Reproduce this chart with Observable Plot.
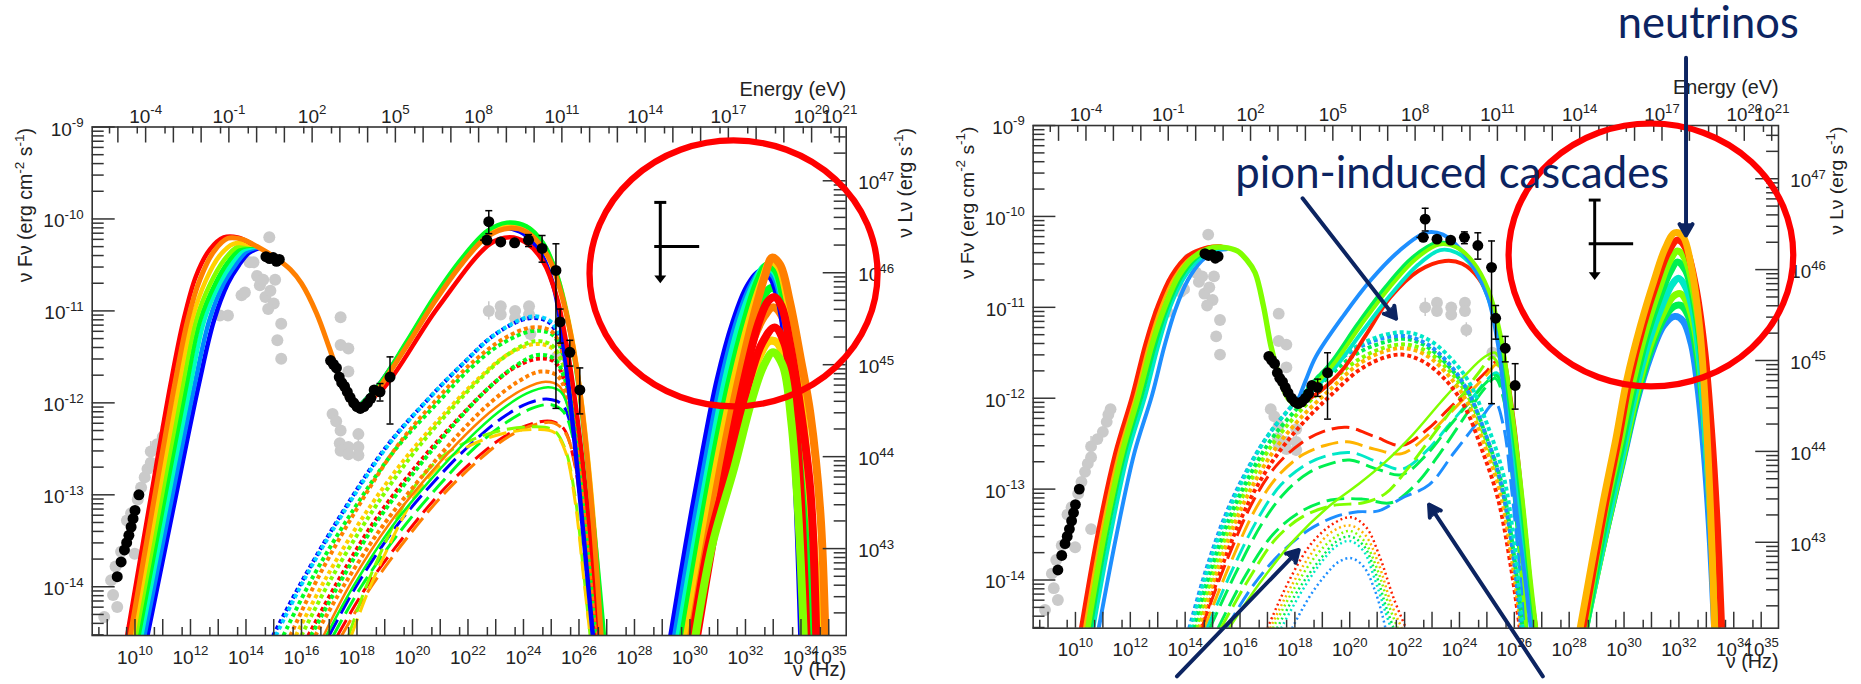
<!DOCTYPE html>
<html>
<head>
<meta charset="utf-8">
<script src="https://cdn.jsdelivr.net/npm/d3@7"></script>
<script src="https://cdn.jsdelivr.net/npm/@observablehq/plot@0.6"></script>
<style>
html,body{margin:0;padding:0;background:#fff}
body{width:1861px;height:684px;overflow:hidden;position:relative}
.panel{position:absolute;top:0}
</style>
</head>
<body>
<div id="left" class="panel" style="left:0px"></div>
<div id="right" class="panel" style="left:941.7px"></div>
<script>
// ================= DATA (log10 values) =================
const nuTickLabels = [10,12,14,16,18,20,22,24,26,28,30,32,34,35];
const energyTickLabels = [-4,-1,2,5,8,11,14,17,20,21];
const fluxTickLabels = [-9,-10,-11,-12,-13,-14];
const lumTickLabels = [47,46,45,44,43];

// observed data: [log nu, log nuFnu]
const blackPoints = [
 [9.36,-13.89],[9.5,-13.73],[9.62,-13.6],[9.7,-13.52],[9.78,-13.44],[9.86,-13.35],[9.93,-13.26],[10.0,-13.17],[10.14,-13.0],
 [14.72,-10.41],[14.85,-10.43],[14.98,-10.42],[15.1,-10.46],[15.2,-10.44],
 [17.05,-11.54],[17.15,-11.58],[17.26,-11.62],[17.36,-11.72],[17.45,-11.78],[17.55,-11.82],[17.65,-11.88],[17.75,-11.94],
 [17.88,-12.0],[18.0,-12.04],[18.12,-12.06],[18.25,-12.04],[18.38,-12.0],[18.5,-11.95],[18.62,-11.86],[18.83,-11.88],[19.19,-11.72],
 [22.75,-10.03],[22.68,-10.23],[23.18,-10.25],[23.68,-10.26],[24.18,-10.23],[24.67,-10.32],[25.17,-10.56],[25.32,-11.12],[25.67,-11.45],[26.03,-11.86]
];
const blackYErr = [ // [log nu, low, high]
 [18.83,-11.98,-11.79],[19.19,-12.23,-11.5],[22.75,-10.16,-9.91],[24.18,-10.3,-10.17],[24.67,-10.47,-10.18],
 [25.17,-12.06,-10.27],[25.32,-11.35,-10.98],[25.67,-11.6,-11.32],[26.03,-12.12,-11.62]
];
const blackXErr = [ // [log nuFnu, low nu, high nu]
 [-10.23,22.45,22.9],[-10.23,24.0,24.4],[-10.56,25.0,25.35],[-11.12,25.2,25.45],[-11.86,25.9,26.15]
];
const grayPoints = [
 [8.89,-14.33],[9.14,-13.93],[9.21,-14.09],[9.36,-14.22],[9.3,-13.78],[9.5,-13.62],[9.71,-13.28],[9.86,-13.2],[9.99,-13.64],
 [10.1,-13.05],[10.22,-12.92],[10.35,-12.81],[10.45,-12.72],[10.57,-12.53],[10.57,-12.65],[10.57,-13.44],[10.8,-12.45],
 [11.0,-12.37],[11.14,-12.26],[11.2,-12.18],[11.28,-12.12],
 [13.06,-11.05],[13.35,-11.05],[13.84,-10.83],[13.96,-10.8],[14.13,-10.47],[14.27,-10.47],[14.4,-10.62],[14.5,-10.72],
 [14.62,-10.66],[14.84,-10.2],[14.7,-10.85],[14.88,-10.78],[15.0,-10.92],[15.05,-10.66],[14.8,-10.98],[15.27,-11.14],
 [15.13,-11.32],[15.27,-11.52],
 [17.41,-11.07],[17.41,-11.37],[17.69,-11.41],[17.69,-11.66],[17.12,-12.12],[17.25,-12.2],[17.41,-12.3],[17.38,-12.44],
 [17.41,-12.52],[17.69,-12.48],[18.05,-12.34],[18.05,-12.48],[18.05,-12.57],[17.69,-12.56],
 [22.75,-11.0],[23.18,-10.95],[23.18,-11.04],[23.7,-11.0],[23.7,-11.08],[24.2,-10.95],[24.2,-11.04],[24.25,-11.25],[25.2,-11.5]
];
const grayYErr = [[10.57,-12.62,-12.42],[22.75,-11.1,-10.9],[18.05,-12.64,-12.3],[17.41,-12.58,-12.45],[24.25,-11.33,-11.17]];
const upperLimit = [[28.93,-10.70,-9.82]];      // [log nu, tip, top]
const upperLimitBar = [[-10.30,28.73,30.35]];   // [log nuFnu, nu low, nu high]

// ---------- left panel model curves ----------
const leftSync = [
 {s:"blue",  p:[[10.45,-14.53],[11.38,-13.15],[12.3,-11.8],[12.85,-11.1],[13.35,-10.7],[13.75,-10.5],[14.1,-10.37],[14.45,-10.32]]},
 {s:"azure", p:[[10.34,-14.53],[11.25,-13.15],[12.15,-11.8],[12.68,-11.1],[13.2,-10.7],[13.62,-10.5],[14.0,-10.36],[14.4,-10.31]]},
 {s:"teal",  p:[[10.23,-14.53],[11.12,-13.15],[12.0,-11.8],[12.5,-11.1],[13.05,-10.7],[13.5,-10.48],[13.9,-10.34],[14.35,-10.3]]},
 {s:"green", p:[[10.13,-14.53],[11.0,-13.15],[11.86,-11.8],[12.35,-11.1],[12.9,-10.7],[13.35,-10.47],[13.8,-10.32],[14.3,-10.29]]},
 {s:"yg",    p:[[10.03,-14.53],[10.88,-13.15],[11.72,-11.8],[12.2,-11.1],[12.72,-10.7],[13.2,-10.45],[13.7,-10.3],[14.2,-10.28]]},
 {s:"yellow",p:[[9.93,-14.53],[10.76,-13.15],[11.58,-11.8],[12.05,-11.1],[12.55,-10.67],[13.05,-10.4],[13.55,-10.27],[14.2,-10.28]]},
 {s:"red",   p:[[9.72,-14.53],[10.5,-13.15],[11.28,-11.8],[11.75,-11.1],[12.2,-10.62],[12.7,-10.33],[13.2,-10.2],[13.7,-10.2],[14.2,-10.27]]}
];
const leftCompton = [
 {s:"blue",  p:[[18.0,-12.06],[18.8,-11.8],[20.8,-10.88],[22.6,-10.17],[23.3,-10.1],[24.0,-10.16],[24.6,-10.36],[25.1,-10.75],[25.45,-11.4],[25.8,-12.3],[26.15,-13.4],[26.5,-14.53]]},
 {s:"red",   p:[[18.0,-12.06],[18.9,-11.86],[20.9,-10.97],[22.8,-10.27],[23.5,-10.2],[24.1,-10.26],[24.7,-10.46],[25.2,-10.85],[25.6,-11.45],[26.0,-12.3],[26.4,-13.4],[26.75,-14.53]]},
 {s:"yellow",p:[[18.0,-12.06],[18.8,-11.82],[20.8,-10.86],[22.7,-10.15],[23.5,-10.06],[24.2,-10.1],[24.8,-10.32],[25.3,-10.7],[25.75,-11.3],[26.1,-12.0],[26.45,-13.0],[26.85,-14.53]]},
 {s:"green", p:[[18.0,-12.06],[18.8,-11.8],[19.8,-11.33],[20.8,-10.84],[21.8,-10.42],[22.7,-10.13],[23.4,-10.04],[24.1,-10.08],[24.7,-10.26],[25.2,-10.6],[25.6,-11.1],[26.0,-11.85],[26.35,-12.8],[26.65,-13.7],[26.9,-14.53]]}
];
const leftTotal = [[9.83,-14.53],[10.63,-13.15],[11.43,-11.8],[11.9,-11.1],[12.35,-10.65],[12.85,-10.35],[13.35,-10.21],[13.85,-10.22],
 [14.4,-10.3],[15.1,-10.43],[15.6,-10.55],[16.0,-10.7],[16.55,-11.03],[17.0,-11.4],[17.3,-11.66],[17.6,-11.9],[18.0,-12.06],
 [18.4,-12.0],[18.8,-11.84],[19.8,-11.38],[20.8,-10.9],[21.8,-10.48],[22.7,-10.19],[23.5,-10.1],[24.1,-10.14],[24.6,-10.28],
 [25.0,-10.48],[25.35,-10.8],[25.7,-11.25],[26.0,-11.8],[26.3,-12.6],[26.55,-13.45],[26.8,-14.53]];
const leftCascadeDotted = [
 {s:"blue",  p:[[14.98,-14.53],[16.0,-13.95],[17.5,-13.18],[19.0,-12.5],[20.5,-11.98],[21.8,-11.58],[23.0,-11.25],[24.2,-11.08],[24.9,-11.12],[25.3,-11.32],[25.65,-11.85],[25.95,-12.6],[26.25,-13.5],[26.55,-14.53]]},
 {s:"cyan",  p:[[15.08,-14.53],[16.1,-13.92],[17.6,-13.15],[19.1,-12.47],[20.6,-11.95],[21.9,-11.55],[23.1,-11.23],[24.3,-11.06],[25.0,-11.12],[25.35,-11.35],[25.7,-11.9],[26.0,-12.7],[26.3,-13.6],[26.6,-14.53]]},
 {s:"green", p:[[15.35,-14.53],[16.4,-13.9],[17.9,-13.15],[19.4,-12.5],[20.9,-12.0],[22.1,-11.62],[23.2,-11.36],[24.3,-11.22],[25.0,-11.25],[25.4,-11.45],[25.75,-12.0],[26.05,-12.8],[26.35,-13.7],[26.6,-14.53]]},
 {s:"orange",p:[[15.6,-14.53],[16.6,-13.9],[18.0,-13.15],[19.5,-12.45],[21.0,-11.92],[22.2,-11.55],[23.3,-11.3],[24.3,-11.18],[25.0,-11.22],[25.4,-11.45],[25.75,-12.0],[26.1,-12.9],[26.4,-13.8],[26.65,-14.53]]},
 {s:"yellow",p:[[15.8,-14.53],[16.8,-13.95],[18.2,-13.25],[19.7,-12.62],[21.2,-12.1],[22.4,-11.73],[23.4,-11.48],[24.4,-11.36],[25.0,-11.4],[25.45,-11.6],[25.8,-12.15],[26.1,-12.95],[26.4,-13.8],[26.65,-14.53]]},
 {s:"yg",    p:[[16.0,-14.53],[17.0,-13.95],[18.4,-13.25],[19.9,-12.6],[21.3,-12.1],[22.5,-11.72],[23.5,-11.46],[24.4,-11.33],[25.0,-11.37],[25.45,-11.6],[25.8,-12.2],[26.1,-13.0],[26.4,-13.85],[26.65,-14.53]]},
 {s:"red",   p:[[16.25,-14.53],[17.2,-14.0],[18.6,-13.3],[20.1,-12.7],[21.5,-12.22],[22.6,-11.88],[23.6,-11.63],[24.5,-11.52],[25.1,-11.55],[25.5,-11.78],[25.85,-12.35],[26.15,-13.15],[26.45,-14.0],[26.65,-14.53]]},
 {s:"green", p:[[16.35,-14.53],[17.3,-14.0],[18.7,-13.3],[20.2,-12.7],[21.6,-12.2],[22.7,-11.85],[23.7,-11.6],[24.5,-11.48],[25.1,-11.52],[25.5,-11.75],[25.85,-12.3],[26.15,-13.1],[26.45,-14.0],[26.65,-14.53]]},
 {s:"orange",p:[[16.5,-14.53],[17.5,-14.0],[18.9,-13.35],[20.4,-12.78],[21.7,-12.33],[22.8,-12.0],[23.8,-11.77],[24.6,-11.66],[25.2,-11.7],[25.55,-11.9],[25.9,-12.45],[26.2,-13.2],[26.5,-14.1],[26.7,-14.53]]}
];
const leftCascadeSolid = [
 {s:"orange",p:[[16.8,-14.53],[17.8,-13.95],[19.2,-13.3],[20.6,-12.78],[21.9,-12.35],[23.0,-12.05],[24.0,-11.85],[24.8,-11.77],[25.3,-11.82],[25.65,-12.1],[25.95,-12.7],[26.25,-13.5],[26.55,-14.53]]},
 {s:"green", p:[[16.9,-14.53],[17.9,-13.98],[19.3,-13.33],[20.7,-12.82],[22.0,-12.4],[23.1,-12.1],[24.1,-11.9],[24.9,-11.83],[25.35,-11.88],[25.7,-12.15],[26.0,-12.8],[26.3,-13.6],[26.6,-14.53]]}
];
const leftCascadeDashed = [
 {s:"blue",  p:[[17.0,-14.53],[18.0,-13.98],[19.4,-13.35],[20.8,-12.85],[22.1,-12.45],[23.2,-12.17],[24.2,-12.0],[24.9,-11.96],[25.4,-12.02],[25.75,-12.3],[26.05,-12.9],[26.35,-13.7],[26.6,-14.53]]},
 {s:"green", p:[[17.15,-14.53],[18.15,-14.0],[19.55,-13.4],[20.95,-12.9],[22.2,-12.5],[23.3,-12.23],[24.3,-12.06],[25.0,-12.02],[25.45,-12.1],[25.8,-12.4],[26.1,-13.0],[26.4,-13.8],[26.62,-14.53]]},
 {s:"red",   p:[[17.3,-14.53],[18.3,-14.02],[19.7,-13.45],[21.0,-12.98],[22.3,-12.6],[23.4,-12.35],[24.4,-12.22],[25.0,-12.2],[25.45,-12.28],[25.8,-12.6],[26.1,-13.2],[26.4,-14.0],[26.6,-14.53]]},
 {s:"orange",p:[[17.45,-14.53],[18.4,-14.05],[19.8,-13.47],[21.1,-13.0],[22.4,-12.62],[23.5,-12.36],[24.5,-12.23],[25.1,-12.22],[25.5,-12.32],[25.85,-12.65],[26.15,-13.3],[26.42,-14.05],[26.6,-14.53]]},
 {s:"yg",    p:[[17.7,-14.53],[18.3,-14.02],[18.9,-13.6],[19.5,-13.22],[20.1,-12.9],[21.0,-12.6],[22.0,-12.42],[23.2,-12.3],[24.4,-12.26],[25.1,-12.3],[25.5,-12.5],[25.85,-13.0],[26.15,-13.8],[26.4,-14.53]]},
 {s:"yellow",p:[[17.8,-14.53],[18.4,-14.05],[19.0,-13.65],[19.6,-13.28],[20.2,-12.96],[21.1,-12.65],[22.1,-12.46],[23.3,-12.33],[24.5,-12.29],[25.1,-12.32],[25.5,-12.52],[25.85,-13.05],[26.15,-13.85],[26.4,-14.53]]}
];
const leftNeutrino = [
 {s:"yellow",p:[[30.1,-14.53],[30.7,-13.5],[31.4,-12.6],[32.0,-11.95],[32.5,-11.5],[32.85,-11.33],[33.15,-11.35],[33.45,-11.6],[33.75,-12.1],[34.0,-12.9],[34.25,-14.0],[34.35,-14.53]]},
 {s:"orange",p:[[29.95,-14.53],[30.55,-13.5],[31.2,-12.5],[31.8,-11.8],[32.3,-11.3],[32.7,-11.05],[33.0,-10.96],[33.3,-11.05],[33.6,-11.4],[33.9,-12.0],[34.2,-12.9],[34.4,-13.8],[34.55,-14.53]]},
 {s:"green", p:[[29.8,-14.53],[30.4,-13.5],[31.0,-12.5],[31.55,-11.75],[32.1,-11.2],[32.55,-10.88],[32.95,-10.75],[33.3,-10.85],[33.6,-11.2],[33.9,-11.8],[34.15,-12.7],[34.35,-13.6],[34.5,-14.53]]},
 {s:"blue",  p:[[29.36,-14.53],[29.9,-13.55],[30.5,-12.55],[31.03,-11.75],[31.6,-11.12],[32.1,-10.74],[32.55,-10.58],[32.9,-10.62],[33.2,-10.85],[33.45,-11.3],[33.65,-11.9],[33.85,-12.9],[34.04,-14.53]]},
 {s:"azure", p:[[29.5,-14.53],[30.05,-13.55],[30.65,-12.55],[31.18,-11.75],[31.75,-11.1],[32.25,-10.72],[32.65,-10.56],[33.0,-10.6],[33.3,-10.85],[33.55,-11.35],[33.75,-12.0],[33.95,-13.0],[34.12,-14.53]]},
 {s:"teal",  p:[[29.62,-14.53],[30.18,-13.55],[30.78,-12.55],[31.3,-11.75],[31.85,-11.1],[32.35,-10.7],[32.72,-10.52],[33.05,-10.57],[33.35,-10.85],[33.6,-11.4],[33.8,-12.1],[34.0,-13.1],[34.15,-14.53]]},
 {s:"green", p:[[29.75,-14.53],[30.3,-13.55],[30.9,-12.55],[31.45,-11.75],[32.0,-11.1],[32.45,-10.68],[32.8,-10.5],[33.1,-10.56],[33.4,-10.9],[33.7,-11.5],[33.95,-12.3],[34.15,-13.3],[34.3,-14.53]]},
 {s:"yellow",p:[[29.9,-14.53],[30.45,-13.55],[31.05,-12.55],[31.6,-11.75],[32.15,-11.1],[32.6,-10.68],[32.92,-10.46],[33.2,-10.52],[33.5,-10.85],[33.85,-11.5],[34.15,-12.4],[34.45,-13.5],[34.65,-14.53]]},
 {s:"orange",p:[[30.05,-14.53],[30.6,-13.55],[31.2,-12.55],[31.75,-11.75],[32.3,-11.05],[32.7,-10.62],[32.96,-10.42],[33.25,-10.5],[33.6,-10.9],[33.98,-11.5],[34.34,-12.12],[34.7,-13.2],[34.88,-14.53]]},
 {s:"red",   p:[[30.26,-14.53],[30.8,-13.55],[31.4,-12.55],[31.95,-11.75],[32.45,-11.15],[32.8,-10.9],[33.05,-10.85],[33.3,-10.95],[33.6,-11.35],[34.0,-12.1],[34.35,-13.0],[34.55,-14.53]]},
 {s:"red",   p:[[30.1,-14.53],[30.7,-13.5],[31.5,-12.6],[32.1,-11.8],[32.6,-11.35],[33.05,-11.18],[33.4,-11.35],[33.7,-11.9],[33.95,-12.8],[34.2,-14.53]]},
 {s:"yg",    p:[[30.2,-14.53],[30.8,-13.55],[31.6,-12.7],[32.2,-12.0],[32.65,-11.6],[33.0,-11.45],[33.35,-11.6],[33.65,-12.2],[33.9,-13.2],[34.1,-14.53]]}
];

// ---------- right panel model curves ----------
const rightSync = [
 {s:"azure", p:[[10.85,-14.53],[11.5,-13.5],[12.15,-12.6],[12.79,-11.97],[13.25,-11.42],[13.65,-11.02],[14.1,-10.7],[14.6,-10.49],[15.1,-10.38],[15.5,-10.36]]},
 {s:"teal",  p:[[10.65,-14.53],[11.28,-13.5],[11.92,-12.6],[12.55,-11.97],[13.02,-11.42],[13.45,-11.0],[13.95,-10.68],[14.5,-10.47],[15.05,-10.37],[15.45,-10.35]]},
 {s:"green", p:[[10.55,-14.53],[11.15,-13.5],[11.8,-12.6],[12.42,-11.97],[12.9,-11.42],[13.35,-11.0],[13.85,-10.67],[14.4,-10.46],[15.0,-10.36],[15.4,-10.34]]},
 {s:"orange",p:[[10.3,-14.53],[10.9,-13.5],[11.55,-12.6],[12.15,-11.97],[12.65,-11.4],[13.1,-10.99],[13.6,-10.65],[14.2,-10.44],[14.85,-10.34],[15.35,-10.33]]},
 {s:"red",   p:[[10.2,-14.53],[10.8,-13.5],[11.45,-12.6],[12.07,-11.97],[12.55,-11.4],[13.0,-10.98],[13.5,-10.65],[14.1,-10.43],[14.8,-10.34],[15.3,-10.33]]}
];
const rightTotal = [[10.45,-14.53],[11.05,-13.5],[11.7,-12.6],[12.3,-11.97],[12.8,-11.4],[13.25,-11.0],[13.75,-10.66],[14.3,-10.45],
 [14.9,-10.35],[15.4,-10.34],[15.9,-10.38],[16.25,-10.48],[16.55,-10.62],[16.85,-10.98],[17.13,-11.43],[17.45,-11.78],[17.75,-12.0],[18.05,-12.08]];
const rightCompton = [
 {s:"red",   p:[[18.05,-12.08],[18.8,-11.95],[19.7,-11.7],[20.6,-11.3],[21.48,-10.89],[22.5,-10.6],[23.47,-10.49],[24.1,-10.52],[24.7,-10.68],[25.2,-11.0],[25.6,-11.5],[26.0,-12.3],[26.35,-13.3],[26.65,-14.2],[26.8,-14.53]]},
 {s:"teal",  p:[[18.05,-12.08],[18.7,-11.9],[19.5,-11.65],[20.5,-11.25],[21.5,-10.86],[22.5,-10.53],[23.3,-10.37],[23.9,-10.4],[24.5,-10.56],[25.0,-10.86],[25.45,-11.35],[25.85,-12.2],[26.2,-13.2],[26.5,-14.0],[26.7,-14.53]]},
 {s:"green", p:[[18.05,-12.08],[18.6,-11.85],[19.34,-11.6],[20.3,-11.18],[21.3,-10.78],[22.3,-10.45],[23.19,-10.29],[23.8,-10.32],[24.4,-10.48],[24.95,-10.78],[25.4,-11.25],[25.8,-12.0],[26.2,-13.0],[26.55,-14.0],[26.75,-14.53]]},
 {s:"azure", p:[[18.05,-12.08],[18.4,-11.8],[18.77,-11.54],[19.8,-11.08],[20.77,-10.7],[21.8,-10.38],[22.76,-10.18],[23.4,-10.2],[24.0,-10.35],[24.6,-10.6],[25.04,-10.89],[25.4,-11.4],[25.75,-12.3],[26.1,-13.3],[26.4,-14.0],[26.6,-14.53]]},
 {s:"yg",    p:[[18.05,-12.08],[18.65,-11.88],[19.4,-11.63],[20.4,-11.2],[21.4,-10.8],[22.4,-10.47],[23.25,-10.31],[23.9,-10.34],[24.5,-10.5],[25.05,-10.8],[25.5,-11.3],[25.9,-12.1],[26.3,-13.1],[26.6,-14.0],[26.8,-14.53]]}
];
const rightPionDotted = [
 {s:"red",   p:[[14.6,-14.53],[15.2,-13.97],[15.9,-13.42],[16.6,-12.98],[17.4,-12.6],[18.3,-12.27],[19.3,-11.97],[20.3,-11.7],[21.1,-11.57],[21.9,-11.52],[22.7,-11.6],[23.5,-11.8],[24.2,-12.1],[24.8,-12.55],[25.4,-13.1],[25.9,-13.9],[26.2,-14.53]]},
 {s:"orange",p:[[14.5,-14.53],[15.1,-13.95],[15.8,-13.38],[16.5,-12.94],[17.3,-12.55],[18.2,-12.22],[19.3,-11.9],[20.3,-11.63],[21.2,-11.49],[22.0,-11.45],[22.8,-11.53],[23.6,-11.75],[24.3,-12.05],[24.9,-12.5],[25.5,-13.05],[25.95,-13.85],[26.25,-14.53]]},
 {s:"yg",    p:[[14.4,-14.53],[15.0,-13.93],[15.7,-13.35],[16.4,-12.9],[17.2,-12.5],[18.1,-12.17],[19.2,-11.85],[20.3,-11.58],[21.3,-11.44],[22.1,-11.41],[22.9,-11.5],[23.7,-11.72],[24.35,-12.0],[24.95,-12.45],[25.55,-13.0],[26.0,-13.8],[26.3,-14.53]]},
 {s:"green", p:[[14.3,-14.53],[14.9,-13.92],[15.6,-13.33],[16.3,-12.88],[17.1,-12.47],[18.0,-12.14],[19.1,-11.8],[20.2,-11.52],[21.3,-11.38],[22.1,-11.35],[22.9,-11.45],[23.7,-11.68],[24.35,-11.95],[24.95,-12.4],[25.55,-12.95],[26.0,-13.75],[26.3,-14.53]]},
 {s:"azure", p:[[14.15,-14.53],[14.75,-13.9],[15.45,-13.3],[16.15,-12.85],[16.95,-12.44],[17.85,-12.1],[18.95,-11.75],[20.1,-11.48],[21.2,-11.34],[22.1,-11.32],[22.9,-11.42],[23.7,-11.65],[24.3,-11.92],[24.9,-12.35],[25.5,-12.92],[25.95,-13.7],[26.25,-14.53]]},
 {s:"teal",  p:[[14.2,-14.53],[14.8,-13.9],[15.5,-13.3],[16.2,-12.84],[17.0,-12.42],[17.9,-12.08],[19.0,-11.72],[20.2,-11.44],[21.3,-11.3],[22.2,-11.28],[23.0,-11.38],[23.8,-11.6],[24.4,-11.85],[25.0,-12.28],[25.6,-12.84],[26.0,-13.6],[26.3,-14.53]]}
];
const rightDashed = [
 {s:"red",   p:[[14.6,-14.53],[15.5,-13.8],[16.5,-13.12],[17.3,-12.75],[18.2,-12.5],[19.0,-12.37],[19.9,-12.32],[20.9,-12.42],[21.9,-12.52],[22.8,-12.35],[23.6,-12.12],[24.4,-11.88],[25.0,-11.7],[25.35,-11.6],[25.65,-11.85],[25.95,-12.6],[26.25,-13.6],[26.45,-14.53]]},
 {s:"orange",p:[[14.7,-14.53],[15.6,-13.85],[16.6,-13.2],[17.4,-12.85],[18.3,-12.62],[19.1,-12.52],[19.9,-12.48],[20.9,-12.56],[21.9,-12.61],[22.8,-12.42],[23.6,-12.18],[24.4,-11.93],[25.0,-11.74],[25.35,-11.63],[25.65,-11.9],[25.95,-12.65],[26.25,-13.65],[26.45,-14.53]]},
 {s:"teal",  p:[[14.8,-14.53],[15.7,-13.9],[16.7,-13.3],[17.5,-12.95],[18.4,-12.73],[19.2,-12.63],[20.1,-12.6],[21.0,-12.7],[21.9,-12.78],[22.8,-12.58],[23.6,-12.3],[24.4,-12.02],[25.0,-11.8],[25.35,-11.72],[25.65,-11.98],[25.95,-12.7],[26.25,-13.7],[26.45,-14.53]]},
 {s:"green", p:[[14.9,-14.53],[15.8,-13.95],[16.8,-13.38],[17.6,-13.05],[18.5,-12.82],[19.3,-12.72],[20.0,-12.68],[21.0,-12.78],[21.9,-12.84],[22.8,-12.62],[23.6,-12.32],[24.4,-12.03],[25.0,-11.82],[25.35,-11.75],[25.65,-12.0],[25.95,-12.75],[26.25,-13.75],[26.45,-14.53]]},
 {s:"green", p:[[15.2,-14.53],[16.2,-13.95],[17.2,-13.5],[18.2,-13.25],[19.3,-13.12],[20.48,-13.11],[21.5,-13.15],[22.4,-12.95],[23.3,-12.6],[24.2,-12.2],[24.9,-11.9],[25.3,-11.78],[25.6,-12.0],[25.9,-12.8],[26.2,-13.8],[26.4,-14.53]]},
 {s:"yg",    p:[[15.3,-14.53],[16.3,-14.0],[17.3,-13.55],[18.3,-13.3],[19.4,-13.18],[20.5,-13.15],[21.3,-13.05],[22.1,-12.78],[23.0,-12.42],[23.9,-12.05],[24.7,-11.72],[25.2,-11.55],[25.55,-11.75],[25.85,-12.5],[26.15,-13.5],[26.4,-14.53]]},
 {s:"azure", p:[[15.5,-14.53],[16.5,-14.05],[17.5,-13.7],[18.5,-13.45],[19.5,-13.3],[20.3,-13.25],[21.05,-13.24],[21.9,-13.1],[22.9,-12.95],[23.8,-12.6],[24.76,-12.23],[25.3,-12.05],[25.6,-12.3],[25.9,-13.0],[26.2,-13.9],[26.4,-14.53]]}
];
const rightSolidThin = [
 {s:"yg",    p:[[15.6,-14.53],[16.8,-14.0],[18.0,-13.55],[19.2,-13.2],[20.3,-12.95],[21.3,-12.7],[22.3,-12.4],[23.3,-12.05],[24.2,-11.75],[24.9,-11.55],[25.3,-11.5],[25.6,-11.7],[25.9,-12.4],[26.2,-13.4],[26.45,-14.53]]}
];
const rightSmallDotted = [
 {s:"red",   p:[[17.0,-14.53],[17.8,-14.0],[18.6,-13.6],[19.4,-13.38],[20.05,-13.31],[20.6,-13.42],[21.1,-13.75],[21.6,-14.2],[22.05,-14.53]]},
 {s:"orange",p:[[17.1,-14.53],[17.9,-14.05],[18.7,-13.67],[19.4,-13.46],[20.0,-13.4],[20.55,-13.5],[21.05,-13.82],[21.5,-14.25],[21.9,-14.53]]},
 {s:"yg",    p:[[17.2,-14.53],[18.0,-14.08],[18.8,-13.72],[19.5,-13.52],[20.0,-13.46],[20.5,-13.56],[21.0,-13.88],[21.45,-14.3],[21.75,-14.53]]},
 {s:"green", p:[[17.35,-14.53],[18.1,-14.12],[18.9,-13.78],[19.5,-13.58],[20.0,-13.52],[20.5,-13.62],[20.95,-13.93],[21.35,-14.32],[21.6,-14.53]]},
 {s:"teal",  p:[[17.5,-14.53],[18.2,-14.15],[18.9,-13.83],[19.5,-13.63],[20.0,-13.57],[20.5,-13.68],[20.9,-13.98],[21.3,-14.35],[21.5,-14.53]]},
 {s:"azure", p:[[17.9,-14.53],[18.5,-14.2],[19.1,-13.95],[19.6,-13.8],[20.05,-13.76],[20.5,-13.85],[20.9,-14.1],[21.2,-14.4],[21.3,-14.53]]}
];
const rightNeutrino = [
 {s:"azure", p:[[28.55,-14.53],[29.4,-13.4],[29.95,-12.7],[30.45,-12.05],[30.95,-11.55],[31.45,-11.2],[31.85,-11.1],[32.15,-11.15],[32.45,-11.4],[32.7,-11.9],[32.95,-12.7],[33.15,-13.6],[33.3,-14.53]]},
 {s:"green", p:[[28.58,-14.53],[29.4,-13.4],[29.95,-12.68],[30.44,-12.03],[30.94,-11.5],[31.44,-11.13],[31.82,-10.99],[32.08,-10.98],[32.35,-11.1],[32.62,-11.45],[32.85,-12.0],[33.05,-12.7],[33.22,-13.6],[33.35,-14.53]]},
 {s:"yg",    p:[[28.6,-14.53],[29.4,-13.38],[29.95,-12.65],[30.42,-12.0],[30.92,-11.45],[31.42,-11.07],[31.8,-10.88],[32.05,-10.85],[32.3,-10.95],[32.58,-11.25],[32.82,-11.8],[33.02,-12.6],[33.2,-13.55],[33.35,-14.53]]},
 {s:"teal",  p:[[28.6,-14.53],[29.4,-13.35],[29.95,-12.6],[30.4,-11.95],[30.9,-11.38],[31.4,-10.97],[31.75,-10.75],[31.98,-10.68],[32.25,-10.78],[32.55,-11.1],[32.8,-11.7],[33.0,-12.5],[33.2,-13.5],[33.35,-14.53]]},
 {s:"green", p:[[28.6,-14.53],[29.35,-13.3],[29.9,-12.55],[30.35,-11.9],[30.85,-11.3],[31.35,-10.85],[31.7,-10.6],[31.95,-10.5],[32.25,-10.6],[32.55,-10.95],[32.85,-11.6],[33.05,-12.4],[33.25,-13.5],[33.4,-14.53]]},
 {s:"yg",    p:[[28.55,-14.53],[29.3,-13.25],[29.85,-12.5],[30.3,-11.85],[30.8,-11.25],[31.3,-10.78],[31.65,-10.5],[31.95,-10.38],[32.25,-10.48],[32.55,-10.85],[32.85,-11.5],[33.05,-12.3],[33.25,-13.4],[33.4,-14.53]]},
 {s:"red",   p:[[28.5,-14.53],[29.3,-13.2],[29.8,-12.45],[30.2,-11.8],[30.7,-11.2],[31.2,-10.72],[31.6,-10.4],[31.95,-10.26],[32.25,-10.35],[32.6,-10.75],[32.95,-11.5],[33.2,-12.4],[33.4,-13.4],[33.56,-14.53]]},
 {s:"orange",p:[[28.4,-14.53],[29.2,-13.2],[29.7,-12.45],[30.1,-11.8],[30.6,-11.2],[31.1,-10.7],[31.5,-10.35],[31.85,-10.18],[32.15,-10.22],[32.45,-10.55],[32.75,-11.2],[32.95,-12.0],[33.15,-13.2],[33.3,-14.53]]}
];

// annotations (log coordinates), right panel
const labelNeutrinos = [{text:"neutrinos", x:33.07, y:-8.038}];
const labelCascades = [{text:"pion-induced cascades", x:31.65, y:-9.69}];
const annotationArrows = [ // [x1, y1, x2, y2]
 [32.26,-8.255,32.26,-10.21],
 [18.28,-9.80,21.69,-11.125],
 [13.70,-15.06,18.14,-13.67],
 [27.04,-15.06,22.89,-13.17]
];
const highlightLeft = [[31.57,-10.592]];
const highlightRight = [[30.98,-10.424]];

// ================= STYLE / LAYOUT =================
const NS = "http://www.w3.org/2000/svg";
const LOG_PLANCK_EV = Math.log10(4.135667e-15);
const LNU_OFFSET = 56.585;
const X_DOM = [8.458, 35.63], Y_DOM = [-14.53, -9];
const W = 930, H = 684, ML = 91.7, MR = 84.3, MT = 126.5, MB = 49;
const FW = W - ML - MR, FH = H - MT - MB;
const AX = "#333333", TXT = "#222222", NAVY = "#0c2461";
const FONT = "'Liberation Sans', Arial, Helvetica, sans-serif";
const ANNO_FONT = "Lato, 'Open Sans', sans-serif";
const PAL_L = {red:"#ff0000", orange:"#ff7f00", yellow:"#ffd000", yg:"#80ff00", green:"#00ff22", teal:"#00ffc0", cyan:"#00d5ff", azure:"#0088ff", blue:"#0000ff"};
const PAL_R = {red:"#ff2000", orange:"#ffb400", yellow:"#ffd000", yg:"#80ff00", green:"#00f050", teal:"#00e8c8", azure:"#1e8fff", blue:"#1e8fff"};
const CIRCLE_R = 144, CIRCLE_RY = 133;

const X = d => 10 ** d[0], Y = d => 10 ** d[1];
const hbar = {draw(ctx, size) { const r = Math.sqrt(size / Math.PI); ctx.moveTo(-r, 0); ctx.lineTo(r, 0); }};
const triDown = {draw(ctx, size) { const r = Math.sqrt(size / Math.PI); ctx.moveTo(0, 0); ctx.lineTo(-r, -1.3 * r); ctx.lineTo(r, -1.3 * r); ctx.closePath(); }};

function curves(list, pal, style) {
  return list.map(c => Plot.line(c.p, {x: X, y: Y, curve: "catmull-rom", stroke: pal[c.s], clip: true, ...style}));
}

const nuMajor = d3.range(9, 36);
const nuMinor = d3.range(8, 36).map(n => n + Math.log10(5)).filter(v => v > X_DOM[0] && v < X_DOM[1]);
const eMajor = d3.range(-6, 22).filter(n => n - LOG_PLANCK_EV > X_DOM[0] && n - LOG_PLANCK_EV < X_DOM[1]);
const eMinor = d3.range(-7, 22).map(n => n + Math.log10(5)).filter(n => n - LOG_PLANCK_EV > X_DOM[0] && n - LOG_PLANCK_EV < X_DOM[1]);
const fMinor = [], lMinor = [];
for (let n = -15; n <= -10; n++) for (let k = 2; k <= 9; k++) { const v = n + Math.log10(k); if (v > Y_DOM[0] && v < Y_DOM[1]) fMinor.push(v); }
for (let n = 42; n <= 47; n++) for (let k = 2; k <= 9; k++) { const v = n + Math.log10(k); if (v - LNU_OFFSET > Y_DOM[0] && v - LNU_OFFSET < Y_DOM[1]) lMinor.push(v); }

function axesMarks() {
  const sup = n => `10^{${n}}`;
  return [
    Plot.frame({stroke: AX, strokeWidth: 1.6}),
    Plot.tickX(nuMajor, {x: n => 10 ** n, stroke: AX, strokeWidth: 1.5, insetTop: FH - 16}),
    Plot.tickX(nuMinor, {x: n => 10 ** n, stroke: AX, strokeWidth: 1.5, insetTop: FH - 8}),
    Plot.tickX(eMajor, {x: n => 10 ** (n - LOG_PLANCK_EV), stroke: AX, strokeWidth: 1.5, insetBottom: FH - 16}),
    Plot.tickX(eMinor, {x: n => 10 ** (n - LOG_PLANCK_EV), stroke: AX, strokeWidth: 1.5, insetBottom: FH - 7}),
    Plot.tickY(fluxTickLabels, {y: n => 10 ** n, stroke: AX, strokeWidth: 1.5, insetRight: FW - 23}),
    Plot.tickY(fMinor, {y: n => 10 ** n, stroke: AX, strokeWidth: 1.5, insetRight: FW - 12}),
    Plot.tickY(lumTickLabels, {y: n => 10 ** (n - LNU_OFFSET), stroke: AX, strokeWidth: 1.5, insetLeft: FW - 23}),
    Plot.tickY(lMinor, {y: n => 10 ** (n - LNU_OFFSET), stroke: AX, strokeWidth: 1.5, insetLeft: FW - 12}),
    Plot.text(nuTickLabels, {x: n => 10 ** n, text: sup, frameAnchor: "bottom", lineAnchor: "bottom", dy: 28, fontSize: 19, fill: TXT}),
    Plot.text(energyTickLabels, {x: n => 10 ** (n - LOG_PLANCK_EV), text: sup, frameAnchor: "top", lineAnchor: "bottom", dy: -4.5, fontSize: 19, fill: TXT}),
    Plot.text(fluxTickLabels, {y: n => 10 ** n, text: sup, frameAnchor: "left", textAnchor: "end", lineAnchor: "bottom", dx: -8.5, dy: 8.5, fontSize: 19, fill: TXT}),
    Plot.text(lumTickLabels, {y: n => 10 ** (n - LNU_OFFSET), text: sup, frameAnchor: "right", textAnchor: "start", lineAnchor: "bottom", dx: 12, dy: 8.5, fontSize: 19, fill: TXT}),
    Plot.text(["ν Fν (erg cm^{-2} s^{-1})"], {text: d => d, frameAnchor: "top-left", rotate: -90, textAnchor: "end", lineAnchor: "middle", dx: -66, dy: 1, fontSize: 19.5, fill: TXT}),
    Plot.text(["ν Lν (erg s^{-1})"], {text: d => d, frameAnchor: "top-right", rotate: -90, textAnchor: "end", lineAnchor: "middle", dx: 59.5, dy: 1, fontSize: 19.5, fill: TXT}),
    Plot.text(["Energy (eV)"], {text: d => d, frameAnchor: "top-right", textAnchor: "end", lineAnchor: "bottom", dy: -31.5, fontSize: 20, fill: TXT}),
    Plot.text(["ν (Hz)"], {text: d => d, frameAnchor: "bottom-right", textAnchor: "end", lineAnchor: "bottom", dy: 40, fontSize: 20, fill: TXT})
  ];
}

function dataMarks() {
  return {
    under: [
      Plot.ruleX(grayYErr, {x: X, y1: d => 10 ** d[1], y2: d => 10 ** d[2], stroke: "#c8c8c8", strokeWidth: 1.5}),
      Plot.dot(grayPoints, {x: X, y: Y, r: 6, fill: "#cacaca"})
    ],
    over: [
      Plot.ruleX(blackYErr, {x: X, y1: d => 10 ** d[1], y2: d => 10 ** d[2], stroke: "#000", strokeWidth: 1.5}),
      Plot.ruleY(blackXErr, {y: d => 10 ** d[0], x1: d => 10 ** d[1], x2: d => 10 ** d[2], stroke: "#000", strokeWidth: 1.5}),
      Plot.dot(blackYErr.flatMap(d => [[d[0], d[1]], [d[0], d[2]]]), {x: X, y: Y, symbol: hbar, r: 3.5, stroke: "#000", strokeWidth: 1.5, fill: "none"}),
      Plot.dot(blackPoints, {x: X, y: Y, r: 5.5, fill: "#000"}),
      Plot.ruleX(upperLimit, {x: X, y1: d => 10 ** (d[1] + 0.05), y2: d => 10 ** d[2], stroke: "#000", strokeWidth: 3}),
      Plot.ruleY(upperLimitBar, {y: d => 10 ** d[0], x1: d => 10 ** d[1], x2: d => 10 ** d[2], stroke: "#000", strokeWidth: 3}),
      Plot.dot(upperLimit.map(d => [d[0], d[2]]), {x: X, y: Y, symbol: hbar, r: 6, stroke: "#000", strokeWidth: 3, fill: "none"}),
      Plot.dot(upperLimit.map(d => [d[0], d[1]]), {x: X, y: Y, symbol: triDown, r: 6, fill: "#000", stroke: "none"})
    ]
  };
}

const SYNC = {strokeWidth: 4.5};
const DOT_THICK = {strokeWidth: 4, strokeDasharray: "4,3", strokeLinecap: "butt"};
const DASH = {strokeWidth: 3, strokeDasharray: "18,7", strokeLinecap: "butt"};
const SOLID_THIN = {strokeWidth: 2.5};
const DOT_THIN = {strokeWidth: 2.5, strokeDasharray: "2,3", strokeLinecap: "butt"};
const NU = {strokeWidth: 8};

function makePlot(marks) {
  return Plot.plot({
    width: W, height: H, marginLeft: ML, marginRight: MR, marginTop: MT, marginBottom: MB,
    x: {type: "log", domain: [10 ** X_DOM[0], 10 ** X_DOM[1]], axis: null},
    y: {type: "log", domain: [10 ** Y_DOM[0], 10 ** Y_DOM[1]], axis: null},
    style: {fontFamily: FONT, background: "transparent", overflow: "visible"},
    marks
  });
}

const dm = dataMarks();
const leftPlot = makePlot([
  ...dm.under,
  ...curves(leftCascadeDashed, PAL_L, DASH),
  ...curves(leftCascadeSolid, PAL_L, SOLID_THIN),
  ...curves(leftCascadeDotted, PAL_L, DOT_THICK),
  ...curves(leftNeutrino, PAL_L, NU),
  ...curves(leftSync, PAL_L, SYNC),
  ...curves(leftCompton, PAL_L, SYNC),
  Plot.line(leftTotal, {x: X, y: Y, curve: "catmull-rom", stroke: PAL_L.orange, strokeWidth: 5, clip: true}),
  ...dm.over,
  ...axesMarks(),
  Plot.dot(highlightLeft, {x: X, y: Y, r: CIRCLE_R, stroke: "#ff0000", strokeWidth: 6.3, fill: "none"})
]);

const dm2 = dataMarks();
const rightPlot = makePlot([
  ...dm2.under,
  ...curves(rightSmallDotted, PAL_R, DOT_THIN),
  ...curves(rightDashed, PAL_R, DASH),
  ...curves(rightSolidThin, PAL_R, SOLID_THIN),
  ...curves(rightPionDotted, PAL_R, DOT_THICK),
  ...curves(rightNeutrino, PAL_R, {strokeWidth: 7}),
  ...curves(rightSync, PAL_R, {strokeWidth: 4}),
  ...curves(rightCompton, PAL_R, {strokeWidth: 4}),
  Plot.line(rightTotal, {x: X, y: Y, curve: "catmull-rom", stroke: PAL_R.yg, strokeWidth: 5.5, clip: true}),
  ...dm2.over,
  ...axesMarks(),
  Plot.dot(highlightRight, {x: X, y: Y, r: CIRCLE_R, stroke: "#ff0000", strokeWidth: 6.3, fill: "none"}),
  Plot.arrow(annotationArrows, {x1: d => 10 ** d[0], y1: d => 10 ** d[1], x2: d => 10 ** d[2], y2: d => 10 ** d[3], stroke: NAVY, strokeWidth: 4, headLength: 5, headAngle: 60}),
  Plot.text(labelNeutrinos, {x: d => 10 ** d.x, y: d => 10 ** d.y, text: d => d.text, textAnchor: "middle", lineAnchor: "bottom", fontSize: 44, fontFamily: ANNO_FONT, fill: NAVY}),
  Plot.text(labelCascades, {x: d => 10 ** d.x, y: d => 10 ** d.y, text: d => d.text, textAnchor: "end", lineAnchor: "bottom", fontSize: 44, fontFamily: ANNO_FONT, fill: NAVY})
]);

document.getElementById("left").appendChild(leftPlot);
document.getElementById("right").appendChild(rightPlot);

// ---------- post-processing ----------
function richText(svg) {
  svg.querySelectorAll("text").forEach(t => {
    const s = t.textContent;
    if (!s.includes("^{")) return;
    const fs = parseFloat(getComputedStyle(t).fontSize) || 19;
    const shift = 0.45 * fs;
    const parts = s.split(/(\^\{[^}]*\})/).filter(p => p);
    while (t.firstChild) t.removeChild(t.firstChild);
    let raised = false;
    parts.forEach(p => {
      const ts = document.createElementNS(NS, "tspan");
      if (p.startsWith("^{")) {
        ts.textContent = p.slice(2, -1);
        ts.setAttribute("font-size", (0.7 * fs).toFixed(1) + "px");
        ts.setAttribute("dy", (-shift).toFixed(1));
        raised = true;
      } else {
        ts.textContent = p;
        if (raised) { ts.setAttribute("dy", shift.toFixed(1)); raised = false; }
      }
      t.appendChild(ts);
    });
  });
}
function ellipses(svg) {
  svg.querySelectorAll("circle").forEach(c => {
    if (Math.abs(parseFloat(c.getAttribute("r")) - CIRCLE_R) > 0.5) return;
    const e = document.createElementNS(NS, "ellipse");
    for (const a of ["cx", "cy", "transform"]) if (c.getAttribute(a) != null) e.setAttribute(a, c.getAttribute(a));
    e.setAttribute("rx", CIRCLE_R);
    e.setAttribute("ry", CIRCLE_RY);
    c.replaceWith(e);
  });
}
function solidHeads(svg) {
  svg.querySelectorAll('g[aria-label="arrow"] path').forEach(p => {
    const n = (p.getAttribute("d").match(/-?\d*\.?\d+(e-?\d+)?/g) || []).map(Number);
    if (n.length < 10) return;
    const k = n.length;
    const [ax, ay, tx, ty, bx, by] = n.slice(k - 6);
    const h = document.createElementNS(NS, "path");
    h.setAttribute("d", `M${ax},${ay}L${tx},${ty}L${bx},${by}Z`);
    h.setAttribute("fill", NAVY);
    h.setAttribute("stroke", NAVY);
    h.setAttribute("stroke-width", 1);
    p.parentNode.appendChild(h);
  });
}
[leftPlot, rightPlot].forEach(svg => { richText(svg); ellipses(svg); });
solidHeads(rightPlot);
rightPlot.querySelectorAll("text").forEach(t => {
  if (t.textContent === "neutrinos") { t.setAttribute("textLength", 183); t.setAttribute("lengthAdjust", "spacingAndGlyphs"); }
  if (t.textContent === "pion-induced cascades") { t.setAttribute("textLength", 439); t.setAttribute("lengthAdjust", "spacingAndGlyphs"); }
});
</script>
</body>
</html>
